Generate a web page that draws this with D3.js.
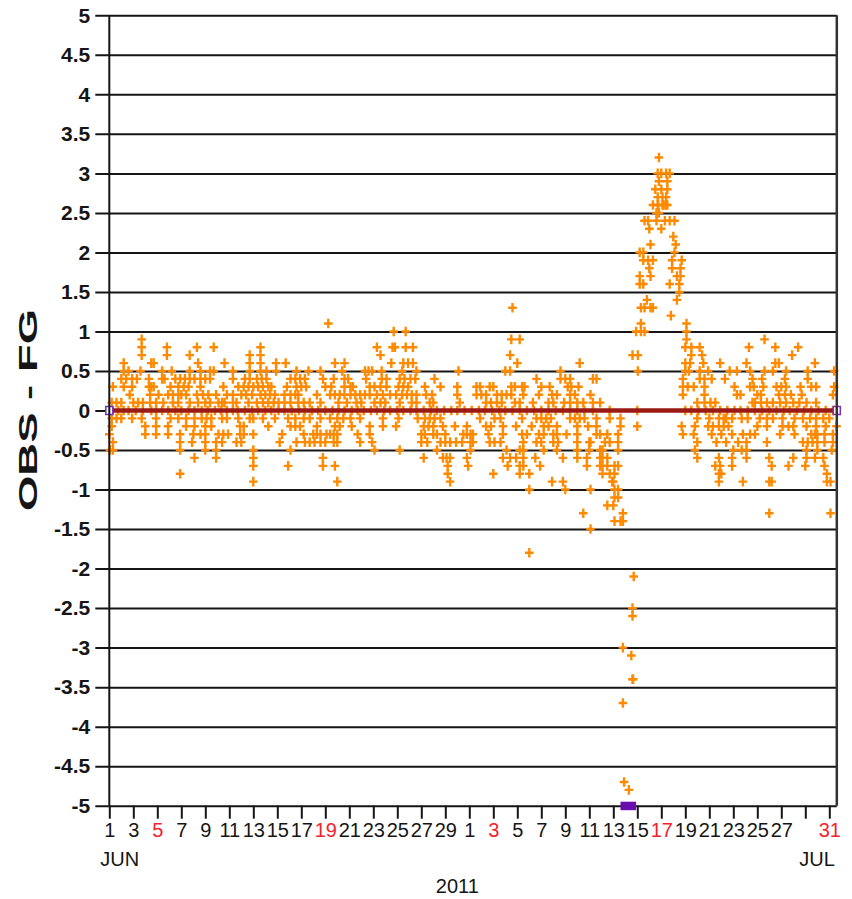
<!DOCTYPE html>
<html>
<head>
<meta charset="utf-8">
<script src="https://cdn.jsdelivr.net/npm/d3@7"></script>
<style>
  html, body { margin: 0; padding: 0; background: #fff; }
  svg { display: block; font-family: "Liberation Sans", Arial, sans-serif; }
</style>
</head>
<body>
<svg id="chart" width="852" height="899"></svg>
<script>
// ---------------------------------------------------------------
// Observation minus first-guess departures, June–July 2011.
// Each group lists [departure value, [times in days since 1 Jun 00 UTC]].
// ---------------------------------------------------------------
const obsJunA = [
  [1.1, [18.25]],
  [0.9, [2.7]],
  [0.8, [2.7, 4.8, 7.3, 8.7, 12.6]],
  [0.7, [2.7, 4.8, 6.7, 11.7, 12.6]],
  [0.6, [1.2, 3.5, 3.7, 7.4, 9.6, 11.7, 12.6, 13.9, 14.7]],
  [0.5, [1.2, 1.6, 2.6, 4.4, 5.2, 6.7, 7.6, 8.4, 8.7, 10.3, 11.7, 12.6, 13.1, 13.9, 15.6, 16.6, 17.6]],
  [0.4, [1.0, 1.4, 1.9, 2.3, 3.3, 4.4, 4.6, 5.5, 5.9, 6.3, 6.7, 7.1, 7.6, 8.0, 8.4, 10.3, 11.3, 11.7, 12.3, 12.7, 13.1, 15.1, 15.5, 15.9, 16.3, 17.8]],
  [0.3, [0.3, 1.2, 1.9, 3.3, 3.5, 3.7, 5.1, 5.75, 6.2, 6.6, 7.6, 9.5, 10.75, 11.2, 11.6, 12.0, 12.4, 12.8, 13.25, 13.5, 14.8, 15.6, 16.0, 16.4, 18.0]],
  [0.2, [1.7, 3.4, 4.1, 4.9, 5.3, 5.75, 6.0, 6.4, 7.3, 7.8, 8.25, 8.9, 9.8, 10.3, 11.0, 11.4, 11.9, 12.6, 13.0, 13.4, 13.8, 14.6, 15.1, 15.5, 15.75, 17.3]],
  [0.1, [0.2, 0.6, 1.0, 2.0, 2.4, 2.8, 3.4, 3.9, 4.5, 5.3, 5.75, 6.7, 7.4, 8.0, 8.4, 9.1, 9.4, 9.6, 10.3, 10.6, 11.6, 12.3, 12.8, 13.25, 13.7, 14.1, 14.6, 15.1, 15.75, 16.2, 16.7, 17.6]],
  [0.0, [0.3, 0.75, 1.2, 1.6, 2.2, 2.8, 3.5, 3.9, 4.4, 4.9, 5.5, 6.0, 6.6, 7.1, 7.7, 8.2, 8.8, 9.3, 9.8, 10.3, 10.7, 11.3, 11.9, 12.4, 13.0, 13.5, 14.1, 14.6, 15.2, 15.8, 16.3, 16.9, 17.4, 18.0]],
  [-0.1, [0.2, 0.6, 1.0, 1.9, 2.7, 3.9, 5.1, 5.75, 6.4, 7.1, 7.7, 8.1, 8.5, 9.4, 9.8, 10.75, 11.7, 12.0, 12.8, 13.8, 14.9, 15.5, 16.2, 16.7, 17.6]],
  [-0.2, [0.2, 3.0, 3.9, 4.9, 6.4, 7.1, 8.0, 8.5, 10.9, 11.2, 13.25, 15.1, 15.5, 15.9, 17.3]],
  [-0.3, [0.0, 3.0, 3.9, 4.9, 5.9, 7.0, 7.6, 8.0, 9.1, 9.5, 9.9, 10.9, 11.2, 12.0, 14.4, 16.2, 17.0, 17.3, 17.6, 18.1]],
  [-0.4, [0.3, 5.9, 6.9, 8.0, 8.9, 9.4, 10.6, 11.0, 14.2, 15.6, 16.3, 16.7, 17.1, 17.6, 18.0]],
  [-0.5, [0.05, 0.3, 5.9, 8.0, 8.9, 12.0, 15.1]],
  [-0.6, [7.1, 8.9, 12.0, 17.8]],
  [-0.7, [12.0, 14.9, 17.8]],
  [-0.8, [5.9]],
  [-0.9, [12.0]]
];

const obsJunB = [
  [1.3, [33.6]],
  [1.0, [23.7, 24.7]],
  [0.9, [33.5, 34.2]],
  [0.8, [22.3, 23.6, 23.8, 24.7, 25.3]],
  [0.7, [22.6, 33.4]],
  [0.6, [18.8, 19.6, 23.5, 24.5, 24.9, 25.3, 34.0, 39.2]],
  [0.5, [19.4, 21.3, 21.6, 21.9, 22.7, 24.4, 25.6, 29.1, 33.0, 33.4, 37.6]],
  [0.4, [18.7, 19.6, 19.9, 21.4, 22.7, 23.1, 24.2, 24.6, 25.1, 25.5, 27.1, 35.6, 37.6, 38.0, 38.4, 40.3, 40.6]],
  [0.3, [18.5, 19.6, 20.1, 20.3, 21.7, 22.1, 22.6, 23.1, 24.1, 24.5, 24.9, 26.3, 27.6, 29.0, 30.6, 30.9, 31.7, 32.0, 33.5, 33.8, 34.4, 34.6, 36.0, 36.7, 38.2, 38.5, 39.1]],
  [0.2, [18.4, 18.8, 19.2, 19.6, 20.1, 20.5, 20.9, 21.3, 21.7, 22.3, 22.8, 23.4, 23.9, 24.4, 24.8, 25.2, 25.6, 26.4, 26.9, 29.0, 30.6, 31.0, 31.4, 32.3, 32.7, 33.1, 33.5, 34.5, 35.8, 36.9, 37.3, 38.4, 38.8, 40.1]],
  [0.1, [19.1, 19.8, 20.6, 21.0, 22.1, 22.6, 23.0, 24.2, 25.2, 25.6, 26.7, 27.0, 29.2, 31.4, 31.8, 32.3, 32.7, 33.8, 34.2, 35.3, 36.6, 37.0, 37.9, 38.4, 39.0, 39.5, 40.3, 40.9]],
  [0.0, [18.6, 19.1, 19.6, 20.2, 20.7, 21.2, 21.8, 22.3, 22.9, 23.4, 24.0, 24.5, 25.1, 25.6, 26.2, 26.8, 27.3, 27.9, 28.5, 29.0, 29.6, 30.2, 30.8, 31.3, 31.9, 32.5, 33.0, 33.6, 34.2, 34.8, 35.4, 36.0, 36.6, 37.2, 37.8, 38.4, 39.0, 39.6, 40.3]],
  [-0.1, [18.4, 19.0, 19.5, 20.1, 20.9, 22.8, 24.1, 25.7, 26.3, 26.7, 27.1, 27.6, 30.9, 32.1, 32.6, 34.4, 35.6, 36.0, 36.4, 36.8, 38.4, 38.8, 39.2, 39.6, 40.6]],
  [-0.2, [18.8, 19.2, 20.2, 21.7, 22.8, 23.9, 26.2, 26.6, 27.0, 27.8, 28.8, 29.8, 31.4, 31.8, 32.8, 33.9, 35.2, 36.2, 36.6, 37.3, 39.0, 39.9, 40.6]],
  [-0.3, [18.4, 18.7, 19.0, 20.7, 21.7, 26.0, 26.3, 27.0, 27.3, 28.0, 29.5, 29.8, 30.1, 30.3, 31.6, 32.8, 34.4, 34.8, 35.8, 36.2, 37.0, 37.3, 38.1, 39.0, 40.6, 40.9]],
  [-0.4, [18.7, 19.0, 20.9, 21.9, 26.0, 26.5, 27.6, 28.0, 28.4, 28.9, 29.4, 30.1, 30.3, 31.7, 32.1, 32.6, 34.5, 35.6, 36.0, 37.0, 37.4, 39.0, 40.0, 40.1]],
  [-0.5, [22.1, 24.2, 27.3, 30.1, 33.1, 34.2, 34.5, 36.2, 37.3, 39.0, 40.0, 40.9]],
  [-0.6, [26.2, 27.8, 28.1, 28.4, 29.8, 32.8, 33.4, 33.9, 34.5, 35.5, 37.8, 39.0, 39.8, 40.9]],
  [-0.7, [18.8, 28.2, 29.9, 33.2, 34.2, 34.5, 35.9, 39.8, 40.9]],
  [-0.8, [28.2, 32.0, 34.2, 35.0]],
  [-0.9, [19.0, 28.4, 36.9, 37.8]],
  [-1.0, [35.0, 38.0, 40.1]],
  [-1.3, [39.5]],
  [-1.5, [40.1]],
  [-1.8, [35.0]]
];

const obsJulStorm = [
  [3.2, [45.8]],
  [3.0, [45.7, 46.0, 46.4, 46.7]],
  [2.9, [45.8, 46.5]],
  [2.8, [45.5, 46.0, 46.5]],
  [2.7, [45.7, 46.1, 46.4]],
  [2.6, [45.3, 45.7, 45.75, 46.1, 46.2, 46.4, 46.5]],
  [2.5, [45.6, 45.8]],
  [2.4, [44.6, 44.9, 45.6, 46.3, 46.7, 47.1]],
  [2.3, [45.0, 46.0]],
  [2.2, [47.0]],
  [2.1, [45.1, 47.2]],
  [2.0, [44.2, 44.5, 47.1]],
  [1.9, [44.5, 44.9, 45.3, 46.9, 47.7]],
  [1.8, [45.0, 46.9, 47.6]],
  [1.7, [44.2, 45.1, 47.3, 47.6]],
  [1.6, [44.2, 44.5, 46.7, 47.5]],
  [1.5, [47.5]],
  [1.4, [44.8, 47.3]],
  [1.3, [44.3, 44.6, 45.1, 45.3]],
  [1.2, [46.8]],
  [1.1, [44.3, 48.1]],
  [1.0, [43.9, 44.3, 44.6, 48.1]],
  [0.7, [43.6, 44.05]],
  [0.5, [44.05]],
  [0.0, [41.7, 44.0]],
  [-0.1, [41.7, 42.6]],
  [-0.2, [42.6, 44.0]],
  [-0.3, [41.5, 42.4]],
  [-0.4, [41.3, 41.7, 42.4]],
  [-0.5, [41.1, 42.4]],
  [-0.6, [41.1, 41.5]],
  [-0.7, [41.1, 41.5, 42.1, 42.4]],
  [-0.8, [41.1, 41.7, 42.1]],
  [-0.9, [41.9, 42.0]],
  [-1.0, [42.1, 42.4]],
  [-1.1, [42.1, 42.4]],
  [-1.2, [41.5, 42.0]],
  [-1.3, [42.8]],
  [-1.4, [42.1, 42.6, 42.8]],
  [-2.1, [43.7]],
  [-2.5, [43.6]],
  [-2.6, [43.6]],
  [-3.0, [42.8]],
  [-3.1, [43.5]],
  [-3.4, [43.6, 43.65]],
  [-3.7, [42.8]],
  [-4.7, [42.9]],
  [-4.8, [43.3]]
];

const obsJulLate = [
  [0.9, [48.1, 54.6]],
  [0.8, [48.0, 48.5, 49.2, 53.3, 55.5, 57.4]],
  [0.7, [48.5, 49.4, 56.9]],
  [0.6, [48.0, 48.4, 49.5, 50.9, 53.1, 55.5, 55.8, 58.8]],
  [0.5, [48.0, 48.3, 49.2, 49.9, 51.7, 52.3, 53.4, 54.6, 55.3, 56.4, 58.2, 60.4]],
  [0.4, [47.8, 49.2, 49.6, 50.2, 51.3, 53.6, 54.4, 56.3, 58.2]],
  [0.3, [47.8, 48.2, 48.7, 49.6, 52.1, 53.4, 53.7, 54.5, 55.6, 56.0, 56.4, 57.6, 58.5, 58.9, 60.4]],
  [0.2, [47.8, 49.6, 52.3, 52.6, 54.0, 54.3, 55.8, 56.3, 56.8, 57.7, 60.3]],
  [0.1, [49.0, 49.6, 50.1, 50.5, 53.6, 53.8, 54.3, 54.8, 55.3, 55.9, 56.4, 57.0, 57.5, 58.1, 58.9]],
  [0.0, [48.0, 48.5, 49.1, 49.7, 50.3, 50.9, 51.5, 52.1, 52.6, 53.2, 53.8, 54.4, 55.0, 55.6, 56.2, 56.7, 57.3, 57.9, 58.5, 59.1, 59.7, 60.3]],
  [-0.1, [49.0, 50.0, 50.8, 51.2, 51.4, 51.9, 52.7, 53.2, 54.2, 54.8, 55.3, 56.1, 57.1, 57.8, 58.4, 58.9, 59.5, 60.0]],
  [-0.2, [47.7, 48.8, 49.9, 50.3, 50.8, 51.2, 51.6, 54.0, 54.8, 56.1, 56.6, 57.0, 58.1, 58.9, 59.7, 60.6]],
  [-0.3, [47.8, 48.7, 50.2, 51.0, 51.9, 52.8, 53.4, 53.8, 55.9, 57.1, 58.5, 58.8, 59.0, 59.6, 60.3]],
  [-0.4, [49.0, 50.6, 51.4, 52.4, 53.1, 54.8, 57.8, 58.2, 58.6, 59.0, 59.6, 60.3]],
  [-0.5, [48.8, 52.0, 52.7, 53.1, 58.1, 59.0, 60.2]],
  [-0.6, [49.0, 50.8, 51.9, 53.1, 55.0, 57.0, 58.1, 58.8, 59.5]],
  [-0.7, [50.5, 50.9, 51.9, 55.2, 56.6, 58.0, 59.6]],
  [-0.8, [50.8, 51.0, 59.8]],
  [-0.9, [50.8, 52.8, 55.0, 55.2, 59.8, 60.1]],
  [-1.3, [55.0, 60.1]]
];

// Axis definitions
const yTicks = [-5, -4.5, -4, -3.5, -3, -2.5, -2, -1.5, -1, -0.5, 0, 0.5, 1, 1.5, 2, 2.5, 3, 3.5, 4, 4.5, 5];
const junTickDays = [1, 3, 5, 7, 9, 11, 13, 15, 17, 19, 21, 23, 25, 27, 29];
const julTickDays = [1, 3, 5, 7, 9, 11, 13, 15, 17, 19, 21, 23, 25, 27, 29, 31];
const julUnlabelled = [29];
const periodEndDay = 60.625;          // plot ends in the afternoon of 31 Jul
const flaggedPeriod = [42.6, 43.9];   // flagged interval marked on the time axis
const yearLabel = "2011";
const axisTitle = "OBS - FG";

// ---------------------------------------------------------------
const t0 = Date.UTC(2011, 5, 1);
const DAY = 86400000;
const toDate = d => new Date(t0 + d * DAY);

const svg = d3.select("#chart");
const L = 109.3, R = 836.8, T = 15.3, B = 805.7;

const x = d3.scaleUtc().domain([toDate(0), toDate(periodEndDay)]).range([L, R]);
const y = d3.scaleLinear().domain([-5, 5]).range([B, T]);

const ink = "#151515";
const sundayRed = "#f5222d";

// Horizontal grid with outward tick stubs and bold value labels
const gy = svg.append("g")
  .attr("transform", `translate(${L},0)`)
  .call(d3.axisLeft(y)
    .tickValues(yTicks)
    .tickSizeInner(-(R - L))
    .tickSizeOuter(0)
    .tickPadding(19)
    .tickFormat(d => String(d)));
gy.attr("font-family", null).attr("font-size", 21).attr("font-weight", "bold");
gy.select(".domain").remove();
gy.selectAll(".tick line").attr("x1", -14).attr("stroke", ink).attr("stroke-width", 2);
gy.selectAll(".tick text").attr("fill", ink);

// Time axis: a tick every second day, Sundays in red
const tickDates = junTickDays.map(d => new Date(Date.UTC(2011, 5, d)))
  .concat(julTickDays.map(d => new Date(Date.UTC(2011, 6, d))));
const gx = svg.append("g")
  .attr("transform", `translate(0,${B})`)
  .call(d3.axisBottom(x)
    .tickValues(tickDates)
    .tickSize(13)
    .tickPadding(4)
    .tickFormat(d => (d.getUTCMonth() === 6 && julUnlabelled.includes(d.getUTCDate())) ? "" : String(d.getUTCDate())));
gx.attr("font-family", null).attr("font-size", 20);
gx.select(".domain").remove();
gx.selectAll(".tick line").attr("stroke", ink).attr("stroke-width", 2);
gx.selectAll(".tick text").attr("fill", d => d.getUTCDay() === 0 ? sundayRed : ink);

// Month and year labels
svg.append("text").attr("x", x(toDate(0)) - 9).attr("y", 866)
  .attr("font-size", 20).attr("fill", ink).text("JUN");
svg.append("text").attr("x", R - 2).attr("y", 866).attr("text-anchor", "end")
  .attr("font-size", 20).attr("fill", ink).text("JUL");
svg.append("text").attr("x", x(toDate(29))).attr("y", 893).attr("text-anchor", "middle")
  .attr("font-size", 20).attr("fill", ink).text(yearLabel);

// Vertical axis title
svg.append("text")
  .attr("transform", "translate(28,410) rotate(-90) scale(1.75,1)")
  .attr("text-anchor", "middle")
  .attr("dominant-baseline", "central")
  .attr("font-size", 26).attr("font-weight", "bold").attr("fill", ink)
  .text(axisTitle);

// Departure markers
const points = [obsJunA, obsJunB, obsJulStorm, obsJulLate]
  .flatMap(group => group.flatMap(([v, days]) => days.map(d => ({ t: toDate(d), v }))));

svg.append("g")
  .selectAll("path")
  .data(points)
  .join("path")
  .attr("d", "M-4.3,0H4.3M0,-4.8V4.8")
  .attr("transform", p => `translate(${x(p.t)},${y(p.v)})`)
  .attr("fill", "none")
  .attr("stroke", "#ff8a00")
  .attr("stroke-width", 2.4);

// Zero reference line with end markers
const zeroLine = [{ d: 0, v: 0 }, { d: periodEndDay, v: 0 }];
svg.append("path")
  .datum(zeroLine)
  .attr("d", d3.line().x(p => x(toDate(p.d))).y(p => y(p.v)))
  .attr("stroke", "#9c1a14")
  .attr("stroke-width", 4.5)
  .attr("fill", "none");
svg.append("g").selectAll("rect")
  .data(zeroLine)
  .join("rect")
  .attr("x", p => x(toDate(p.d)) - 3.5)
  .attr("y", p => y(p.v) - 4)
  .attr("width", 7).attr("height", 8)
  .attr("fill", "#fff")
  .attr("stroke", "#7a2fc0")
  .attr("stroke-width", 1.5);

// Frame: left axis and right border
svg.append("line").attr("x1", L).attr("x2", L).attr("y1", T).attr("y2", B)
  .attr("stroke", ink).attr("stroke-width", 2);
svg.append("line").attr("x1", R).attr("x2", R).attr("y1", T).attr("y2", B)
  .attr("stroke", "#333").attr("stroke-width", 2.5);

// Flagged interval on the time axis
svg.append("rect")
  .attr("x", x(toDate(flaggedPeriod[0])))
  .attr("y", B - 4)
  .attr("width", x(toDate(flaggedPeriod[1])) - x(toDate(flaggedPeriod[0])))
  .attr("height", 8.5)
  .attr("fill", "#6a0dad");
</script>
</body>
</html>
